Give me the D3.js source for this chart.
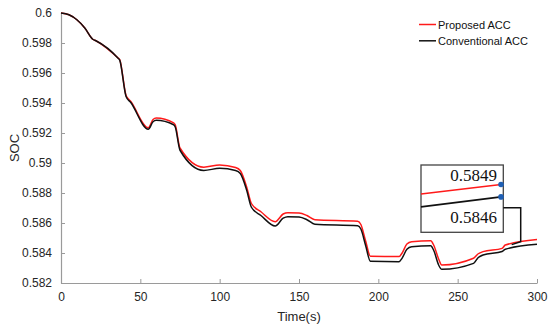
<!DOCTYPE html>
<html>
<head>
<meta charset="utf-8">
<script src="https://cdn.jsdelivr.net/npm/d3@7/dist/d3.min.js"></script>
<style>
html,body{margin:0;padding:0;background:#fff;}
svg{display:block;}
</style>
</head>
<body>
<svg id="chart" width="550" height="326"></svg>
<script>
// ---- data ----
const timeS = [0, 5, 10, 15, 20, 22, 36, 37, 41, 44, 55, 58, 60, 71, 72, 75, 90, 100, 110, 113, 117, 120, 126, 135, 140, 143, 150, 155, 160, 187, 189, 192, 195, 213, 215, 218, 221, 233, 235, 238, 240, 260, 263, 266, 278, 280, 300];
const proposedACC = [0.6, 0.59988, 0.59955, 0.59900, 0.59825, 0.59815, 0.59700, 0.59690, 0.59450, 0.59410, 0.59235, 0.59290, 0.59300, 0.59268, 0.59255, 0.59100, 0.58972, 0.58987, 0.58970, 0.58950, 0.58840, 0.58730, 0.58675, 0.58609, 0.58660, 0.58669, 0.58667, 0.58650, 0.58622, 0.58612, 0.58590, 0.58480, 0.58378, 0.58376, 0.58400, 0.58460, 0.58475, 0.58482, 0.58450, 0.58360, 0.58320, 0.58365, 0.58395, 0.58409, 0.58431, 0.58453, 0.58490];
const conventionalACC = [0.6, 0.59988, 0.59955, 0.59900, 0.59825, 0.59815, 0.59698, 0.59686, 0.59444, 0.59403, 0.59225, 0.59275, 0.59285, 0.59255, 0.59240, 0.59085, 0.58950, 0.58965, 0.58950, 0.58930, 0.58820, 0.58705, 0.58650, 0.58580, 0.58632, 0.58642, 0.58640, 0.58622, 0.58592, 0.58582, 0.58560, 0.58450, 0.58345, 0.58342, 0.58366, 0.58425, 0.58442, 0.58448, 0.58415, 0.58320, 0.58291, 0.58331, 0.58370, 0.58387, 0.58410, 0.58425, 0.58458];
const xTicks = [0, 50, 100, 150, 200, 250, 300];
const yTicks = [0.582, 0.584, 0.586, 0.588, 0.59, 0.592, 0.594, 0.596, 0.598, 0.6];
const yTickLabels = ["0.582", "0.584", "0.586", "0.588", "0.59", "0.592", "0.594", "0.596", "0.598", "0.6"];
const seriesNames = ["Proposed ACC", "Conventional ACC"];
const seriesColors = ["#ff1a1a", "#111111"];
// inset (zoomed view at end of run)
const insetTime = [288, 300];
const insetProposed = [0.58467, 0.5849];
const insetConventional = [0.58436, 0.5846];
const insetLabels = ["0.5849", "0.5846"];
const xLabel = "Time(s)";
const yLabel = "SOC";

// ---- layout ----
const svg = d3.select("#chart");
const x = d3.scaleLinear().domain([0, 300]).range([61, 537]);
const y = d3.scaleLinear().domain([0.582, 0.6]).range([283, 13]);
const axisColor = "#9a9a9a";
const textColor = "#262626";
const font = "'Liberation Sans', Arial, Helvetica, sans-serif";

// axes
const xAxis = d3.axisBottom(x).tickValues(xTicks).tickSizeInner(-4).tickSizeOuter(0).tickPadding(9).tickFormat(d3.format("d"));
const gx = svg.append("g").attr("transform", "translate(0,283)").call(xAxis);
const yAxis = d3.axisLeft(y).tickValues(yTicks).tickSizeInner(-4).tickSizeOuter(0).tickPadding(9).tickFormat((d, i) => yTickLabels[i]);
const gy = svg.append("g").attr("transform", "translate(61,0)").call(yAxis);
[gx, gy].forEach(g => {
  g.select(".domain").attr("stroke", axisColor).attr("stroke-width", 1.2);
  g.selectAll(".tick line").attr("stroke", axisColor).attr("stroke-width", 1);
  g.selectAll(".tick text").attr("fill", textColor).style("font-family", font).style("font-size", "12px");
});

svg.append("text").attr("x", x(150)).attr("y", 321).attr("text-anchor", "middle")
  .style("font-family", font).style("font-size", "13px").attr("fill", textColor).text(xLabel);
svg.append("text").attr("transform", "translate(19," + y(0.591) + ") rotate(-90)").attr("text-anchor", "middle")
  .style("font-family", font).style("font-size", "13px").attr("fill", textColor).text(yLabel);

// lines
const line = d3.line().x((d, i) => x(timeS[i])).y(d => y(d)).curve(d3.curveMonotoneX);
[proposedACC, conventionalACC].forEach((s, k) => {
  svg.append("path").attr("d", line(s)).attr("fill", "none")
    .attr("stroke", seriesColors[k]).attr("stroke-width", 1.5).attr("stroke-linejoin", "round");
});

// legend
seriesNames.forEach((n, k) => {
  const ly = 24.5 + k * 16.3;
  svg.append("line").attr("x1", 419).attr("x2", 436).attr("y1", ly).attr("y2", ly)
    .attr("stroke", seriesColors[k]).attr("stroke-width", 1.5);
  svg.append("text").attr("x", 438).attr("y", ly + 4).style("font-family", font).style("font-size", "11px")
    .attr("fill", "#111").text(n);
});

// inset
const ix = d3.scaleLinear().domain(insetTime).range([421, 501]);
const iy = d3.scaleLinear().domain([0.5846, 0.5849]).range([196.9, 184.5]);
svg.append("rect").attr("x", 421).attr("y", 165).attr("width", 82.3).attr("height", 67.3)
  .attr("fill", "#fff").attr("stroke", "#444").attr("stroke-width", 1.3);
const iline = d3.line().x((d, i) => ix(insetTime[i])).y(d => iy(d));
[insetProposed, insetConventional].forEach((s, k) => {
  svg.append("path").attr("d", iline(s)).attr("fill", "none").attr("stroke", seriesColors[k]).attr("stroke-width", 1.7);
  svg.append("circle").attr("cx", ix(insetTime[1])).attr("cy", iy(s[1])).attr("r", 2.8).attr("fill", "#1f5fb4");
});
const serif = "'Liberation Serif', 'Times New Roman', serif";
svg.append("text").attr("x", 497).attr("y", 180.7).attr("text-anchor", "end")
  .style("font-family", serif).style("font-size", "17px").attr("fill", "#111").text(insetLabels[0]);
svg.append("text").attr("x", 497).attr("y", 222.7).attr("text-anchor", "end")
  .style("font-family", serif).style("font-size", "17px").attr("fill", "#111").text(insetLabels[1]);
// callout connector
svg.append("path").attr("d", "M503.3,207.7 H520.7 V241.7 L511.7,244.6").attr("fill", "none")
  .attr("stroke", "#111").attr("stroke-width", 1.5);
</script>
</body>
</html>
